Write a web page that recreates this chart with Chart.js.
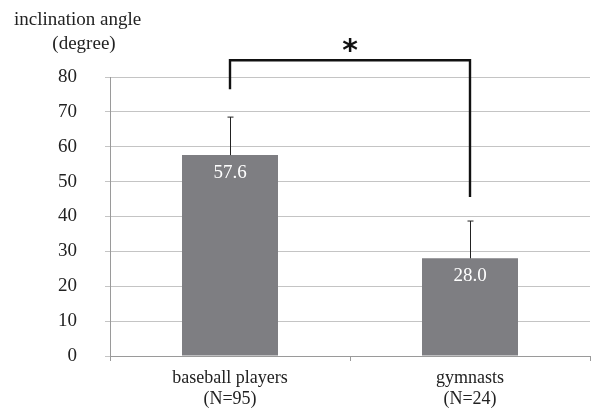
<!DOCTYPE html>
<html>
<head>
<meta charset="utf-8">
<script src="https://cdn.jsdelivr.net/npm/chart.js@4.4.1/dist/chart.umd.min.js"></script>
<style>
  html, body { margin: 0; padding: 0; background: #fff; }
  #wrap { width: 592px; height: 415px; position: relative; }
</style>
</head>
<body>
<div id="wrap"><canvas id="chart"></canvas></div>
<script>
const groups = [["baseball players", "(N=95)"], ["gymnasts", "(N=24)"]];
const means = [57.6, 28.0];
const sdErrors = [10.9, 10.7];
const yTicks = [0, 10, 20, 30, 40, 50, 60, 70, 80];
// significance bracket: top level, then bottom of each leg
const bracketTop = 84.8;
const bracketLegs = [76.5, 45.6];
const sigMark = "*";

const serif = "'Liberation Serif', 'Times New Roman', serif";
const barColor = "#7e7e82";

const overlay = {
  id: "overlay",
  afterDatasetsDraw(chart) {
    const { ctx, scales: { x, y } } = chart;
    ctx.save();

    // error bars (upper only)
    ctx.strokeStyle = "#222";
    ctx.lineWidth = 1;
    means.forEach((m, i) => {
      const px = Math.round(x.getPixelForValue(i)) + 0.5;
      const top = y.getPixelForValue(m + sdErrors[i]);
      const base = y.getPixelForValue(m);
      ctx.beginPath();
      ctx.moveTo(px, base);
      ctx.lineTo(px, top);
      ctx.moveTo(px - 3, top);
      ctx.lineTo(px + 3, top);
      ctx.stroke();
    });

    // value labels inside bars
    ctx.fillStyle = "#fff";
    ctx.font = "19px " + serif;
    ctx.textAlign = "center";
    ctx.textBaseline = "middle";
    means.forEach((m, i) => {
      ctx.fillText(m.toFixed(1), x.getPixelForValue(i), y.getPixelForValue(m) + 18);
    });

    // bracket
    const x0 = x.getPixelForValue(0);
    const x1 = x.getPixelForValue(1);
    const yt = y.getPixelForValue(bracketTop);
    ctx.strokeStyle = "#111";
    ctx.lineWidth = 2.4;
    ctx.beginPath();
    ctx.moveTo(x0, y.getPixelForValue(bracketLegs[0]));
    ctx.lineTo(x0, yt);
    ctx.lineTo(x1, yt);
    ctx.lineTo(x1, y.getPixelForValue(bracketLegs[1]));
    ctx.stroke();

    ctx.fillStyle = "#111";
    ctx.font = "bold 30px 'DejaVu Sans', sans-serif";
    ctx.fillText(sigMark, (x0 + x1) / 2, yt - 8);

    // axis title
    ctx.fillStyle = "#222";
    ctx.font = "19px " + serif;
    ctx.textAlign = "left";
    ctx.fillText("inclination angle", 14, 20);
    ctx.textAlign = "center";
    ctx.fillText("(degree)", 84, 44);

    ctx.restore();
  }
};

new Chart(document.getElementById("chart"), {
  type: "bar",
  data: {
    labels: groups,
    datasets: [{
      data: means,
      backgroundColor: barColor,
      barPercentage: 0.4,
      categoryPercentage: 1.0
    }]
  },
  options: {
    responsive: true,
    maintainAspectRatio: false,
    animation: false,
    layout: { padding: { top: 77, right: 2, left: 0, bottom: 0 } },
    plugins: { legend: { display: false }, tooltip: { enabled: false } },
    scales: {
      x: {
        afterFit: (s) => { s.height = 59; },
        grid: { drawOnChartArea: false, color: "#9a9a9a", tickLength: 5 },
        border: { color: "#9a9a9a" },
        ticks: { color: "#222", font: { family: serif, size: 18, lineHeight: 1.2 }, padding: 6 }
      },
      y: {
        min: 0,
        max: 80,
        afterFit: (s) => { s.width = 110; },
        afterBuildTicks: (s) => { s.ticks = yTicks.map(v => ({ value: v })); },
        grid: { color: "#c4c4c4", tickLength: 5 },
        border: { color: "#9a9a9a" },
        ticks: { color: "#222", font: { family: serif, size: 19 }, padding: 28 }
      }
    }
  },
  plugins: [overlay]
});
</script>
</body>
</html>
